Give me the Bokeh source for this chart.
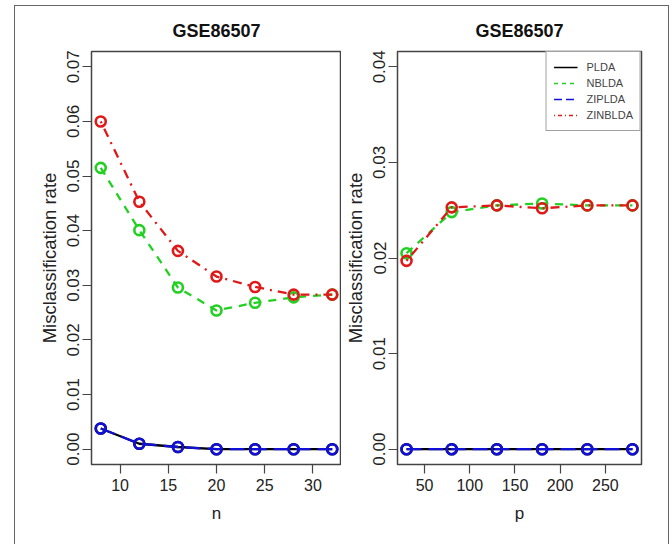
from bokeh.plotting import figure
from bokeh.layouts import row
from bokeh.models import FixedTicker, Legend, LegendItem, Range1d
from bokeh.embed import file_html
from bokeh.resources import INLINE

# ---- data ----
title_text = "GSE86507"
methods = ["PLDA", "NBLDA", "ZIPLDA", "ZINBLDA"]

n_vals = [8, 12, 16, 20, 24, 28, 32]
plda_n = [0.0038, 0.0010, 0.0004, 0.0000, 0.0000, 0.0000, 0.0000]
nblda_n = [0.0515, 0.0401, 0.0296, 0.0254, 0.0268, 0.0278, 0.0283]
ziplda_n = [0.0038, 0.0010, 0.0004, 0.0000, 0.0000, 0.0000, 0.0000]
zinblda_n = [0.0600, 0.0453, 0.0363, 0.0316, 0.0297, 0.0283, 0.0283]

p_vals = [30, 80, 130, 180, 230, 280]
plda_p = [0.0, 0.0, 0.0, 0.0, 0.0, 0.0]
nblda_p = [0.0205, 0.0248, 0.0255, 0.0257, 0.0255, 0.0255]
ziplda_p = [0.0, 0.0, 0.0, 0.0, 0.0, 0.0]
zinblda_p = [0.0197, 0.0253, 0.0255, 0.0252, 0.0255, 0.0255]

n_ticks = [10, 15, 20, 25, 30]
p_ticks = [50, 100, 150, 200, 250]
yticks_left = [0.00, 0.01, 0.02, 0.03, 0.04, 0.05, 0.06, 0.07]
yticks_right = [0.00, 0.01, 0.02, 0.03, 0.04]

colors = {"PLDA": "#000000", "NBLDA": "#22d022", "ZIPLDA": "#1010d8", "ZINBLDA": "#e01818"}
dashes = {"PLDA": "solid", "NBLDA": "8 7", "ZIPLDA": "15 7", "ZINBLDA": "2 6 9 6"}
legend_dashes = {"PLDA": "solid", "NBLDA": "4 4", "ZIPLDA": "8 4", "ZINBLDA": "1 3 4 3"}

FONT = "Liberation Sans"
NAN = float("nan")


def make_panel(xs, series, xticks, yticks, xr, yr, xlabel, width, bl, br):
    p = figure(width=width, height=539, output_backend="svg", toolbar_location=None,
               x_range=Range1d(*xr), y_range=Range1d(*yr),
               min_border_left=bl, min_border_right=br, min_border_top=45, min_border_bottom=81)
    p.title.text = title_text
    p.title.align = "center"
    p.title.text_font = FONT
    p.title.text_font_size = "18px"
    p.title.text_font_style = "bold"
    p.title.text_color = "#111111"
    p.title.standoff = 21
    p.grid.visible = False
    p.outline_line_color = "#444444"
    p.outline_line_width = 1.5
    p.background_fill_color = "white"
    p.border_fill_color = "white"
    for ax in (p.xaxis[0], p.yaxis[0]):
        ax.axis_line_color = None
        ax.major_tick_line_color = "#444444"
        ax.major_tick_line_width = 1.2
        ax.major_tick_out = 9
        ax.major_tick_in = 0
        ax.minor_tick_line_color = None
        ax.major_label_text_font = FONT
        ax.major_label_text_color = "#222222"
        ax.axis_label_text_font = FONT
        ax.axis_label_text_font_style = "normal"
        ax.axis_label_text_color = "#222222"
    p.xaxis[0].major_label_text_font_size = "16px"
    p.yaxis[0].major_label_text_font_size = "17px"
    p.xaxis[0].axis_label_text_font_size = "17px"
    p.yaxis[0].axis_label_text_font_size = "18.5px"
    p.xaxis[0].ticker = FixedTicker(ticks=xticks)
    p.yaxis[0].ticker = FixedTicker(ticks=yticks)
    p.yaxis[0].major_label_overrides = {t: f"{t:.2f}" for t in yticks}
    p.yaxis[0].major_label_orientation = "vertical"
    p.xaxis[0].axis_label = xlabel
    p.yaxis[0].axis_label = "Misclassification rate"
    p.xaxis[0].major_label_standoff = 5
    p.yaxis[0].major_label_standoff = 3
    p.xaxis[0].axis_label_standoff = 10
    p.yaxis[0].axis_label_standoff = 5
    for m in methods:
        ys = series[m]
        p.line(xs, ys, line_color=colors[m], line_width=2.3, line_dash=dashes[m])
        p.scatter(xs, ys, marker="circle", size=10, fill_color=None,
                  line_color=colors[m], line_width=2.6)
    return p


p1 = make_panel(n_vals,
                {"PLDA": plda_n, "NBLDA": nblda_n, "ZIPLDA": ziplda_n, "ZINBLDA": zinblda_n},
                n_ticks, yticks_left, (7.04, 32.96), (-0.0028, 0.0728), "n", 326, 76, 0)
p2 = make_panel(p_vals,
                {"PLDA": plda_p, "NBLDA": nblda_p, "ZIPLDA": ziplda_p, "ZINBLDA": zinblda_p},
                p_ticks, yticks_right, (20, 290), (-0.0016, 0.0416), "p", 327, 50, 27)

# thin key lines for the legend (non-drawing renderers, styled like R's legend keys)
items = []
for m in methods:
    r = p2.line([NAN, NAN], [NAN, NAN], line_color=colors[m], line_width=1.3,
                line_dash=legend_dashes[m])
    items.append(LegendItem(label=m, renderers=[r], index=0))

legend = Legend(items=items,
                location="top_right", margin=0, padding=7, spacing=0,
                label_height=16, glyph_height=16, glyph_width=24, label_standoff=9,
                label_text_font=FONT, label_text_font_size="11px",
                border_line_color="#444444", border_line_width=1.2,
                background_fill_color="white", background_fill_alpha=1.0)
p2.add_layout(legend)

layout = row(p1, p2, margin=(5, 0, 0, 14),
             styles={"border": "1px solid #666666", "box-sizing": "border-box"})

open("out.html", "w").write(file_html(layout, INLINE))
